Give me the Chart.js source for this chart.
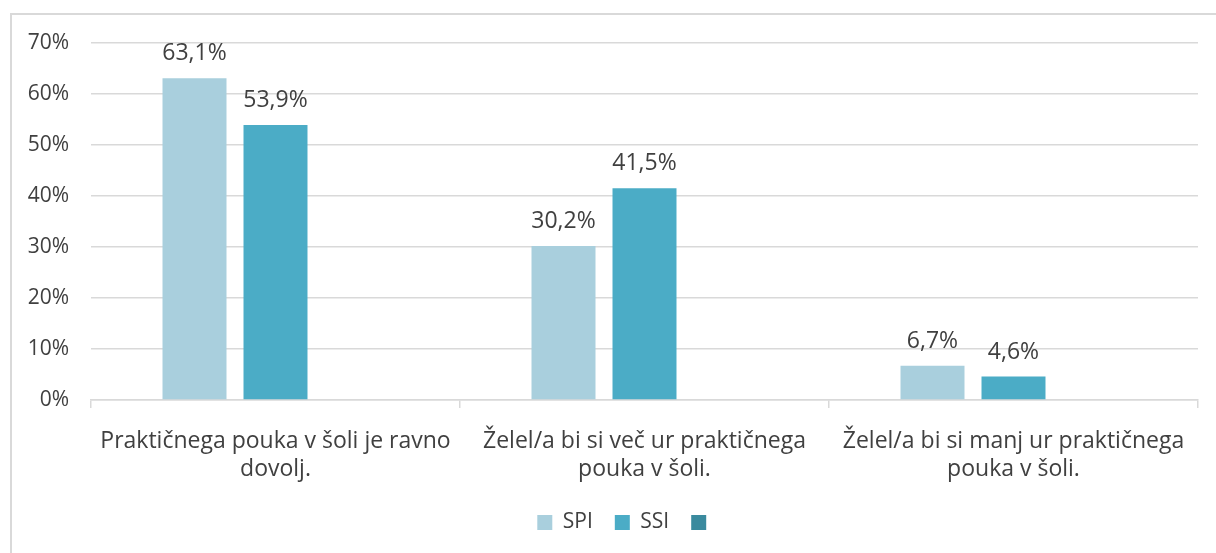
<!DOCTYPE html>
<html>
<head>
<meta charset="utf-8">
<script src="https://cdn.jsdelivr.net/npm/chart.js@4/dist/chart.umd.min.js"></script>
<style>
  html, body { margin: 0; padding: 0; background: #fff; overflow: hidden; }
  #frame { position: absolute; left: 10px; top: 13px; width: 1230px; height: 560px; border: 2px solid #d9d9d9; }
  #wrap { position: absolute; left: 0; top: 0; width: 1216px; height: 553px; }
</style>
</head>
<body>
<div id="frame"></div>
<div id="wrap"><canvas id="chart"></canvas></div>
<script>
const categories = [
  ['Praktičnega pouka v šoli je ravno', 'dovolj.'],
  ['Želel/a bi si več ur praktičnega', 'pouka v šoli.'],
  ['Želel/a bi si manj ur praktičnega', 'pouka v šoli.']
];
const spiValues = [63.1, 30.2, 6.7];
const ssiValues = [53.9, 41.5, 4.6];
const emptyValues = [null, null, null];
const yTicks = [0, 10, 20, 30, 40, 50, 60, 70];

const FONT = '"Open Sans", "DejaVu Sans", sans-serif';
const TEXT = '#404040';
const GRID = '#d9d9d9';

function pct(v) {
  return v.toFixed(1).replace('.', ',') + '%';
}

// napisi nad stolpci
const valueLabels = {
  id: 'valueLabels',
  afterDatasetsDraw(chart) {
    const ctx = chart.ctx;
    ctx.save();
    ctx.font = '23px ' + FONT;
    ctx.fillStyle = TEXT;
    ctx.textAlign = 'center';
    ctx.textBaseline = 'alphabetic';
    chart.data.datasets.forEach((ds, i) => {
      const meta = chart.getDatasetMeta(i);
      meta.data.forEach((bar, j) => {
        const v = ds.data[j];
        if (v === null || v === undefined) return;
        ctx.fillText(pct(v), bar.x, bar.y - 18);
      });
    });
    ctx.restore();
  }
};

// legenda je v originalu centrirana na cel okvir, ne na graf
const legendShift = {
  id: 'legendShift',
  afterLayout(chart) {
    if (!chart.legend) return;
    chart.legend.left += 28;
    chart.legend.right += 28;
  }
};

new Chart(document.getElementById('chart'), {
  type: 'bar',
  data: {
    labels: categories,
    datasets: [
      { label: 'SPI', data: spiValues, backgroundColor: '#a9cfdd' },
      { label: 'SSI', data: ssiValues, backgroundColor: '#4bacc6' },
      { label: '', data: emptyValues, backgroundColor: '#3a8a9e' }
    ]
  },
  options: {
    responsive: true,
    maintainAspectRatio: false,
    animation: false,
    datasets: {
      bar: { categoryPercentage: 0.6585, barPercentage: 0.79 }
    },
    layout: { padding: { top: 43, right: 18, bottom: 10, left: 0 } },
    plugins: {
      legend: {
        position: 'bottom',
        labels: {
          font: { family: FONT, size: 21 },
          color: TEXT,
          boxWidth: 15,
          boxHeight: 15,
          padding: 22
        }
      },
      tooltip: { enabled: false }
    },
    scales: {
      x: {
        offset: true,
        grid: {
          display: true,
          drawOnChartArea: false,
          offset: true,
          tickLength: 8,
          color: GRID,
          lineWidth: 1.5
        },
        border: { display: true, color: GRID, width: 1.5 },
        ticks: {
          font: { family: FONT, size: 23, lineHeight: 1.22 },
          color: TEXT,
          maxRotation: 0,
          autoSkip: false,
          padding: 19
        },
        afterFit(scale) { scale.height = 90; }
      },
      y: {
        min: 0,
        max: 70,
        afterBuildTicks(scale) { scale.ticks = yTicks.map(v => ({ value: v })); },
        grid: { color: GRID, lineWidth: 1.5, drawTicks: false },
        border: { display: false },
        ticks: {
          font: { family: FONT, size: 21 },
          color: TEXT,
          padding: 22,
          callback: v => v + '%'
        },
        afterFit(scale) { scale.width = 91; }
      }
    }
  },
  plugins: [valueLabels, legendShift]
});
</script>
</body>
</html>
